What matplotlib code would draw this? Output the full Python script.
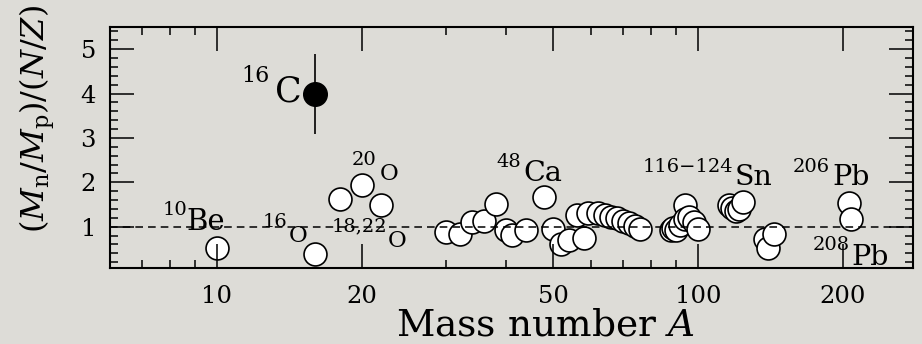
import numpy as np
import matplotlib
matplotlib.use("Agg")
import matplotlib.pyplot as plt
from matplotlib.ticker import FixedLocator, NullFormatter, FixedFormatter

plt.rcParams['font.family'] = ['DejaVu Serif']
plt.rcParams['mathtext.fontset'] = 'dejavuserif'

# open symbols: mass number and (Mn/Mp)/(N/Z)
mass = [10, 16, 18, 20, 22,
        30, 32, 34, 36, 38, 40, 41, 44, 48, 50, 52, 54, 56, 58, 59, 62, 64, 66, 68, 70, 72, 74, 76,
        88, 89, 90, 92, 94, 94, 96, 98, 100,
        116, 118, 120, 122, 124,
        138, 140, 144,
        206, 208]
ratio = [0.52, 0.38, 1.62, 1.94, 1.50,
         0.89, 0.84, 1.11, 1.13, 1.52, 0.93, 0.81, 0.93, 1.67, 0.96, 0.60, 0.70, 1.26, 0.74, 1.30,
         1.32, 1.26, 1.23, 1.19, 1.13, 1.08, 1.02, 0.95,
         0.92, 0.98, 0.93, 1.05, 1.50, 1.18, 1.22, 1.10, 0.96,
         1.48, 1.42, 1.36, 1.40, 1.56,
         0.72, 0.52, 0.84,
         1.53, 1.18]

# 16C, filled symbol with error bar
c16_mass = [16]
c16_ratio = [4.0]
c16_err = [0.9]

# nucleus labels: (mass number, x, y, size), (symbol, x, y, size); y is the baseline
labels = [
    (('10', 7.72, 1.26, 14), ('Be', 8.66, 0.925, 21)),
    (('16', 11.27, 4.27, 16), ('C', 13.2, 3.815, 25)),
    (('20', 19.09, 2.39, 14), ('O', 21.83, 2.054, 16.5)),
    (('16', 12.46, 0.99, 14), ('O', 14.12, 0.655, 16.5)),
    (('18,22', 17.34, 0.90, 14), ('O', 22.68, 0.542, 16.5)),
    (('48', 38.2, 2.35, 14), ('Ca', 43.3, 2.032, 20.5)),
    (('116\u2212124', 76.9, 2.235, 14), ('Sn', 119.4, 1.941, 20.5)),
    (('206', 157.6, 2.235, 14), ('Pb', 190.0, 1.941, 20.5)),
    (('208', 173.4, 0.474, 14), ('Pb', 209.0, 0.135, 20.5)),
]

xmajor = [10, 20, 50, 100, 200]
xminor = [7, 8, 9, 30, 40, 60, 70, 80, 90]

bg = '#dddcd7'
fig = plt.figure(figsize=(9.22, 3.44), dpi=100, facecolor=bg)
ax = fig.add_axes([0.1193, 0.2209, 0.8709, 0.7006])
ax.set_facecolor(bg)

ax.set_xscale('log')
ax.set_xlim(6, 280)
ax.set_ylim(0.07, 5.5)

ax.plot(mass, ratio, 'o', ms=16.5, mfc='white', mec='black', mew=1.2, zorder=2)
ax.errorbar(c16_mass, c16_ratio, yerr=c16_err, fmt='o', ms=17, mfc='black', mec='black',
            ecolor='black', elinewidth=1.2, capsize=0, zorder=2)
ax.axhline(1.0, color='black', lw=1.1, ls=(0, (5, 3.3)), zorder=3)

for sup, sym in labels:
    for txt, x, y, fs in (sup, sym):
        ax.text(x, y, txt, fontsize=fs, ha='left', va='baseline', zorder=4)

ax.xaxis.set_major_locator(FixedLocator(xmajor))
ax.xaxis.set_major_formatter(FixedFormatter([str(v) for v in xmajor]))
ax.xaxis.set_minor_locator(FixedLocator(xminor))
ax.xaxis.set_minor_formatter(NullFormatter())
ax.yaxis.set_major_locator(FixedLocator([1, 2, 3, 4, 5]))
ax.yaxis.set_minor_locator(FixedLocator(np.arange(0.2, 5.5, 0.2)))

ax.set_axisbelow(False)
ax.tick_params(which='both', direction='in', top=True, right=True, width=1.1, color='black')
ax.tick_params(which='major', length=17, labelsize=17.5)
ax.tick_params(which='minor', length=6)
ax.tick_params(axis='x', which='major', pad=12)
ax.tick_params(axis='y', which='major', pad=10)
for s in ax.spines.values():
    s.set_linewidth(1.5)

fig.text(545 / 922, 1 - 335 / 344, r'Mass number $A$', fontsize=27, ha='center', va='baseline')
fig.text(37 / 922, 1 - 119 / 344, r'$(M_{\rm n}/M_{\rm p})/(N/Z)$', fontsize=23,
         rotation=90, ha='center', va='center')

fig.savefig('out.png', dpi=100, facecolor=bg)
